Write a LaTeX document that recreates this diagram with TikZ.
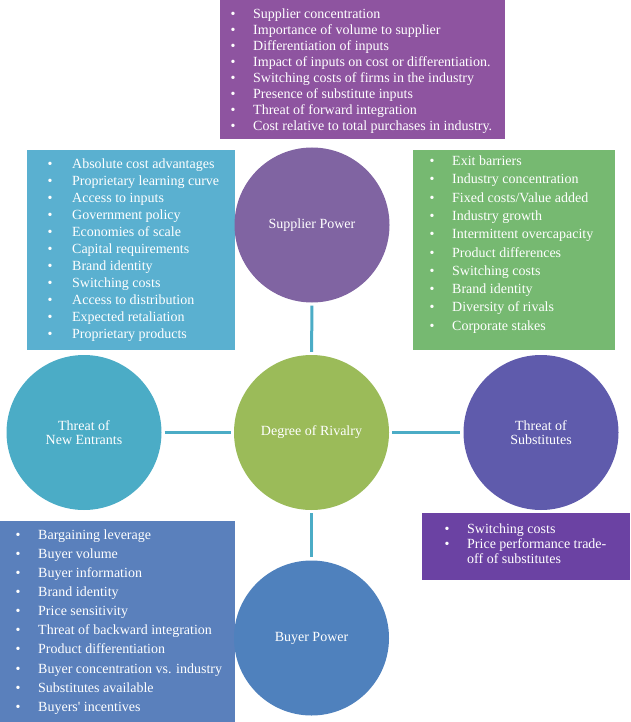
\documentclass[tikz,border=0pt]{standalone}
\usepackage{fontspec}
\setmainfont{Liberation Serif}

\definecolor{supBox}{HTML}{8E54A0}
\definecolor{supFill}{HTML}{8064A2}
\definecolor{entBox}{HTML}{5AB0D0}
\definecolor{entFill}{HTML}{4BACC6}
\definecolor{rivBox}{HTML}{76B971}
\definecolor{rivFill}{HTML}{9BBB59}
\definecolor{subBox}{HTML}{6B42A3}
\definecolor{subFill}{HTML}{5F5BAC}
\definecolor{buyBox}{HTML}{5A80BC}
\definecolor{buyFill}{HTML}{4F81BD}
\definecolor{linkCol}{HTML}{4BACC6}

\tikzset{
	force/.style={circle, minimum size=155pt, inner sep=0pt, text=white, align=center,
		font=\fontsize{14}{14}\selectfont},
	item/.style={anchor=west, inner sep=0pt, text=white, text height=9pt, text depth=3pt,
		yshift=-2pt, font=\fontsize{14}{14}\selectfont},
	link/.style={draw=linkCol, line width=3pt, shorten <=3pt, shorten >=3pt}
}

\newcommand{\itemlist}[6]{
	\pgfmathsetmacro{\ILx}{#2-2.5}
	\pgfmathsetmacro{\ILgap}{#3-#2+2.5}
	\foreach \t [count=\i from 0] in {#6} {
		\node[item] (#1-\i) at (\ILx, {#4+#5*\i}) {\makebox[\ILgap pt][l]{\textbullet}\t};
	}
}

\begin{document}
\begin{tikzpicture}[x=1pt,y=-1pt]
\useasboundingbox (0,0) rectangle (630,722);

\fill[supBox] (220,0) rectangle (505,139);
\fill[entBox] (27,150) rectangle (235,350);
\fill[rivBox] (413,150) rectangle (615,350);
\fill[buyBox] (0,521) rectangle (235,722);
\fill[subBox] (422,513) rectangle (630,580);

\itemlist{sup}{233}{253}{13.3}{16}{Supplier concentration, Importance of volume to supplier,
	Differentiation of inputs, Impact of inputs on cost or differentiation.,
	Switching costs of firms in the industry, Presence of substitute inputs,
	Threat of forward integration, Cost relative to total purchases in industry.}

\itemlist{ent}{50}{72}{163.3}{17}{Absolute cost advantages, Proprietary learning curve,
	Access to inputs, Government policy, Economies of scale, Capital requirements,
	Brand identity, Switching costs, Access to distribution, Expected retaliation,
	Proprietary products}

\itemlist{riv}{432}{452}{160.7}{18.26}{Exit barriers, Industry concentration,
	Fixed costs/Value added, Industry growth, Intermittent overcapacity,
	Product differences, Switching costs, Brand identity, Diversity of rivals,
	Corporate stakes}

\itemlist{buy}{18}{38}{534.3}{19.1}{Bargaining leverage, Buyer volume, Buyer information,
	Brand identity, Price sensitivity, Threat of backward integration,
	Product differentiation, Buyer concentration vs. industry, Substitutes available,
	Buyers\textquotesingle{} incentives}

\itemlist{sub}{447}{467}{528.3}{15}{Switching costs, Price performance trade-}
\node[item] (sub-2) at (467,558.3) {off of substitutes};

\node[force, fill=supFill] (supplier) at (312,225) {Supplier Power};
\node[force, fill=rivFill] (rivalry) at (311.5,432.5) {Degree of Rivalry};
\node[force, fill=entFill] (entrants) at (84,432.5) {Threat of\\New Entrants};
\node[force, fill=subFill] (substitutes) at (541,432.5) {Threat of\\Substitutes};
\node[force, fill=buyFill] (buyer) at (311.5,638) {Buyer Power};

\draw[link] (supplier) -- (rivalry);
\draw[link] (entrants) -- (rivalry);
\draw[link] (rivalry) -- (substitutes);
\draw[link] (rivalry) -- (buyer);
\end{tikzpicture}
\end{document}
